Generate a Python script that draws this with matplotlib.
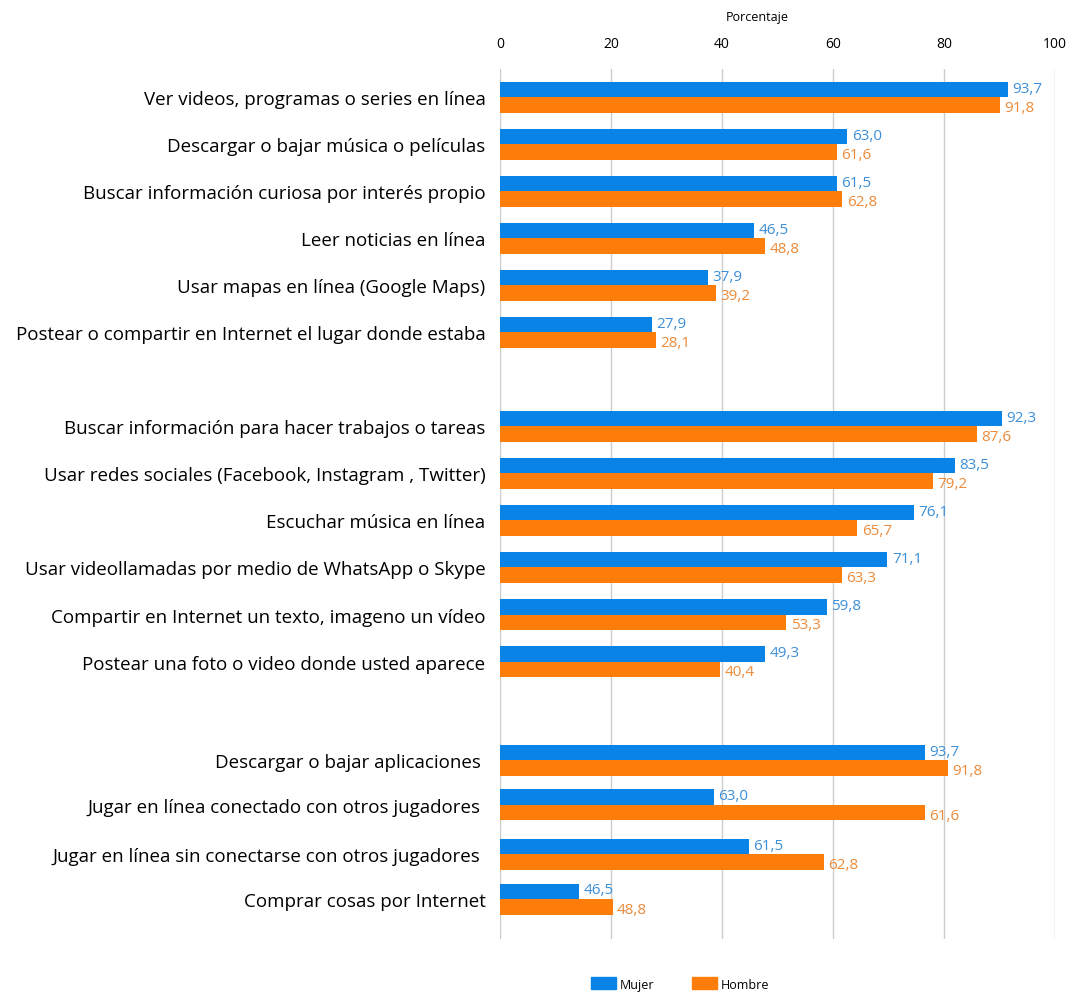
import numpy as np
import matplotlib
matplotlib.use("Agg")
import matplotlib.pyplot as plt
from matplotlib.patches import Patch

plt.rcParams['font.family'] = ['Open Sans', 'DejaVu Sans']

categories = [
    "Ver videos, programas o series en línea",
    "Descargar o bajar música o películas",
    "Buscar información curiosa por interés propio",
    "Leer noticias en línea",
    "Usar mapas en línea (Google Maps)",
    "Postear o compartir en Internet el lugar donde estaba",
    "Buscar información para hacer trabajos o tareas",
    "Usar redes sociales (Facebook, Instagram , Twitter)",
    "Escuchar música en línea",
    "Usar videollamadas por medio de WhatsApp o Skype",
    "Compartir en Internet un texto, imageno un vídeo",
    "Postear una foto o video donde usted aparece",
    "Descargar o bajar aplicaciones ",
    "Jugar en línea conectado con otros jugadores ",
    "Jugar en línea sin conectarse con otros jugadores ",
    "Comprar cosas por Internet",
]
# row positions (blank rows between the three blocks)
rows = [0, 1, 2, 3, 4, 5, 7, 8, 9, 10, 11, 12, 14.1, 15.05, 16.1, 17.05]

# printed labels
mujer_txt = [93.7, 63.0, 61.5, 46.5, 37.9, 27.9,
             92.3, 83.5, 76.1, 71.1, 59.8, 49.3,
             93.7, 63.0, 61.5, 46.5]
hombre_txt = [91.8, 61.6, 62.8, 48.8, 39.2, 28.1,
              87.6, 79.2, 65.7, 63.3, 53.3, 40.4,
              91.8, 61.6, 62.8, 48.8]
# drawn bar lengths (last block does not match its labels in the original)
mujer_bar = [91.5, 62.6, 60.7, 45.8, 37.5, 27.4,
             90.4, 82.0, 74.6, 69.8, 58.9, 47.8,
             76.5, 38.5, 44.8, 14.2]
hombre_bar = [90.0, 60.7, 61.7, 47.8, 38.9, 28.1,
              86.0, 78.0, 64.4, 61.6, 51.6, 39.6,
              80.7, 76.5, 58.3, 20.3]

blue = '#0a83e6'
orange = '#fd7d0a'
blue_t = '#3d8fd8'
orange_t = '#ec8b3a'

fig = plt.figure(figsize=(10.68, 9.95), dpi=100)
ax = fig.add_axes([500/1068, 1 - 940/995, 555/1068, 870/995])

y = np.array(rows)
h = 0.33
ax.barh(y - h/2, mujer_bar, height=h, color=blue, zorder=3)
ax.barh(y + h/2, hombre_bar, height=h, color=orange, zorder=3)

for yi, mb, hb, mt, ht in zip(y, mujer_bar, hombre_bar, mujer_txt, hombre_txt):
    ax.text(mb + 0.8, yi - h/2 - 0.03, f"{mt:.1f}".replace('.', ','),
            color=blue_t, fontsize=11, va='center', ha='left')
    ax.text(hb + 0.8, yi + h/2 + 0.05, f"{ht:.1f}".replace('.', ','),
            color=orange_t, fontsize=11, va='center', ha='left')

ax.set_xlim(0, 100)
ax.set_ylim(17.9, -0.6)
ax.set_xticks([0, 20, 40, 60, 80, 100])
ax.xaxis.tick_top()
ax.tick_params(axis='x', length=0, labelsize=10, pad=13)
ax.set_yticks(y)
ax.set_yticklabels(categories, fontsize=13.5)
ax.tick_params(axis='y', length=0, pad=10.5)
ax.grid(axis='x', color='#cccccc', linewidth=1, zorder=0)
for s in ax.spines.values():
    s.set_visible(False)

fig.text(757/1068, 1 - 18/995, "Porcentaje", fontsize=9, ha='center', va='center')

handles = [Patch(color=blue, label='Mujer'), Patch(color=orange, label='Hombre')]
fig.legend(handles=handles, loc='center', bbox_to_anchor=(680/1068, 1 - 985/995),
           ncol=2, frameon=False, fontsize=9, handlelength=2.0, handleheight=1.1,
           columnspacing=3.0, handletextpad=0.3)

fig.savefig("out.png", dpi=100)
